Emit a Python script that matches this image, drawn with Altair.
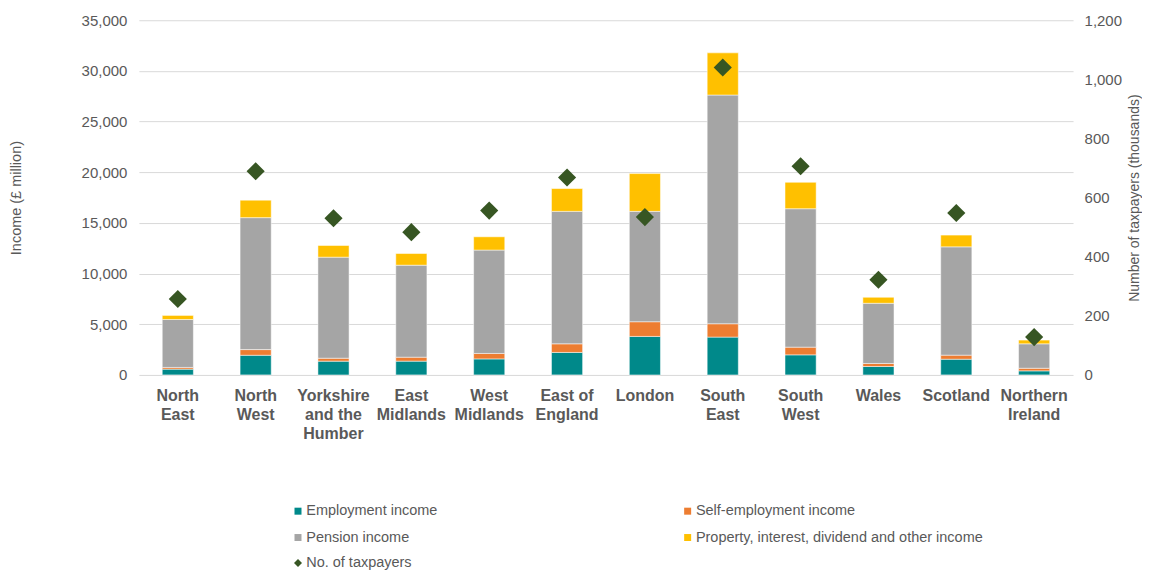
import altair as alt
import pandas as pd

regions = ["North East", "North West", "Yorkshire and the Humber", "East Midlands",
           "West Midlands", "East of England", "London", "South East", "South West",
           "Wales", "Scotland", "Northern Ireland"]
region_labels = ["North|East", "North|West", "Yorkshire|and the|Humber", "East|Midlands",
                 "West|Midlands", "East of|England", "London", "South|East", "South|West",
                 "Wales", "Scotland", "Northern|Ireland"]

employment = [570, 1940, 1360, 1360, 1580, 2220, 3800, 3730, 1980, 830, 1550, 400]
self_employment = [170, 560, 290, 390, 540, 850, 1450, 1320, 760, 300, 400, 260]
pension = [4730, 13020, 9970, 9080, 10200, 13070, 10890, 22570, 13660, 5940, 10690, 2410]
property_other = [400, 1720, 1150, 1150, 1310, 2250, 3730, 4160, 2610, 590, 1160, 370]
taxpayers = [257, 689, 530, 483, 556, 668, 534, 1040, 706, 322, 548, 128]

series_names = ["Employment income", "Self-employment income", "Pension income",
                "Property, interest, dividend and other income"]
series_colors = ["#00898A", "#ED7D31", "#A5A5A5", "#FFC000"]
# legend reading order (two columns, filled column by column)
legend_order = [0, 2, 1, 3]
left_ticks = [0, 5000, 10000, 15000, 20000, 25000, 30000, 35000]
right_ticks = [0, 200, 400, 600, 800, 1000, 1200]

rows = []
for i, lab in enumerate(region_labels):
    for k, (name, vals) in enumerate(zip(series_names,
                                         [employment, self_employment, pension, property_other])):
        rows.append({"region": lab, "name": regions[i], "series": name, "order": k, "value": vals[i]})
bars_df = pd.DataFrame(rows)
pts_df = pd.DataFrame({"region": region_labels, "name": regions, "taxpayers": taxpayers,
                       "marker": ["No. of taxpayers"] * len(regions)})

FONT = "Liberation Sans"
GREY = "#595959"

x_enc = alt.X("region:N", sort=region_labels,
              scale=alt.Scale(paddingInner=0.6, paddingOuter=0.3),
              axis=alt.Axis(title=None, labelExpr="split(datum.label, '|')", labelAngle=0,
                            labelFontWeight="bold", labelFontSize=16, labelColor=GREY,
                            labelLineHeight=19, labelPadding=13, ticks=False, domain=False,
                            labelOverlap=False, grid=False))

bars = alt.Chart(bars_df).mark_bar(stroke="white", strokeWidth=0.5).encode(
    x=x_enc,
    y=alt.Y("value:Q", stack="zero", scale=alt.Scale(domain=[0, 35000], nice=False),
            axis=alt.Axis(title="Income (£ million)", values=left_ticks, format=",.0f",
                          labelFontSize=15, labelColor=GREY, labelPadding=12,
                          titleFontSize=14.5, titleFontWeight="normal", titleColor=GREY,
                          titlePadding=58, ticks=False, domain=False,
                          grid=True, gridColor="#D9D9D9", gridWidth=1)),
    color=alt.Color("series:N",
                    scale=alt.Scale(domain=[series_names[j] for j in legend_order],
                                    range=[series_colors[j] for j in legend_order]),
                    legend=alt.Legend(title=None, orient="none", legendX=152, legendY=484,
                                      columns=2, columnPadding=243, rowPadding=11.5,
                                      symbolType="square", symbolSize=49, symbolStrokeWidth=0,
                                      labelFontSize=14.5, labelColor=GREY, labelLimit=400,
                                      labelOffset=1, padding=0)),
    order=alt.Order("order:Q", sort="ascending"),
)

points = alt.Chart(pts_df).mark_point(shape="diamond", filled=True, color="#375623",
                                      size=330, opacity=1).encode(
    x=x_enc,
    y=alt.Y("taxpayers:Q", scale=alt.Scale(domain=[0, 1200], nice=False),
            axis=alt.Axis(orient="right", title="Number of taxpayers (thousands)",
                          values=right_ticks, format=",.0f", labelFontSize=15, labelColor=GREY,
                          labelPadding=11, titleFontSize=14, titleFontWeight="normal",
                          titleColor=GREY, titlePadding=6, titleAngle=270,
                          titleBaseline="top", ticks=False, domain=False, grid=False)),
    shape=alt.Shape("marker:N", scale=alt.Scale(domain=["No. of taxpayers"], range=["diamond"]),
                    legend=alt.Legend(title=None, orient="none", legendX=152, legendY=536,
                                      symbolFillColor="#375623", symbolStrokeWidth=0,
                                      symbolSize=64, labelFontSize=14.5, labelColor=GREY,
                                      labelOffset=1, padding=0)),
)

chart = alt.layer(bars, points).resolve_scale(y="independent").properties(
    width=935, height=355,
    padding={"left": 0, "top": 5, "right": 0, "bottom": 0},
).configure(font=FONT).configure_view(stroke=None).configure_axis(labelFont=FONT, titleFont=FONT)

chart.save("out.html", embed_options={"renderer": "svg", "actions": False})
